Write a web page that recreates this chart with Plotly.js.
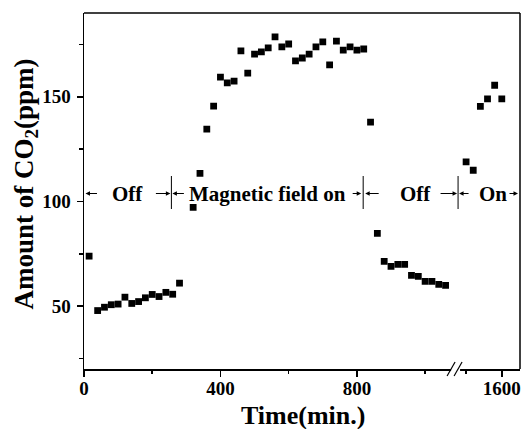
<!DOCTYPE html>
<html>
<head>
<meta charset="utf-8">
<script src="https://cdn.plot.ly/plotly-3.0.1.min.js"></script>
<style>html,body{margin:0;padding:0;background:#fff;}</style>
</head>
<body>
<div id="chart" style="width:522px;height:429px;"></div>
<script>
// Segment 1 (before axis break)
const time1 = [15, 40, 60, 80, 100, 120, 140, 160, 180, 200, 220, 240, 260, 280,
  320, 340, 360, 380, 400, 420, 440, 460, 480, 500, 520, 540, 560, 580, 600, 620, 640, 660, 680, 700, 720, 740, 760, 780, 800, 820,
  840, 860, 880, 900, 920, 940, 960, 980, 1000, 1020, 1040, 1060];
const co2_1 = [73.9, 47.9, 49.5, 50.7, 51.0, 54.3, 51.3, 52.2, 54.0, 55.6, 54.6, 56.6, 55.7, 61.0,
  97.2, 113.4, 134.5, 145.5, 159.4, 156.6, 157.5, 171.9, 161.3, 170.4, 171.4, 173.3, 178.6, 173.8, 175.2, 167.1, 168.5, 170.4, 173.8, 176.2, 165.2, 176.6, 172.3, 173.8, 172.3, 172.8,
  137.9, 84.8, 71.4, 69.0, 70.0, 70.0, 64.7, 64.2, 61.8, 61.8, 60.4, 59.9];
// Segment 2 (after axis break)
const time2 = [1500, 1520, 1540, 1560, 1580, 1600];
const co2_2 = [118.9, 114.9, 145.4, 149.0, 155.5, 149.0];

const xTicks1 = [0, 400, 800];
const xTicks2 = [1600];
const yTicks = [50, 100, 150];
const phaseLabels = ['Off', 'Magnetic field on', 'Off', 'On'];
const xTitle = 'Time(min.)';
const yTitle = 'Amount of CO<sub>2</sub>(ppm)';

const FONT = 'Times New Roman, Liberation Serif, serif';
const L = 83.5, R = 520, T = 13, B = 369;
const px = v => (v - L) / (R - L);           // pixel x -> paper x
const py = v => (B - v) / (B - T);           // pixel y -> paper y
const BREAK = px(453.7);

const marker = {symbol: 'square', size: 6.8, color: '#000'};
const traces = [
  {x: time1, y: co2_1, xaxis: 'x', yaxis: 'y', mode: 'markers', marker, hoverinfo: 'x+y'},
  {x: time2, y: co2_2, xaxis: 'x2', yaxis: 'y', mode: 'markers', marker, hoverinfo: 'x+y'}
];

const axisCommon = {
  showline: true, linecolor: '#000', linewidth: 1.5, ticks: 'outside', ticklen: 6, tickwidth: 1.5,
  tickcolor: '#000', showgrid: false, zeroline: false, ticklabeloverflow: 'allow',
  tickfont: {family: FONT, size: 19, color: '#000', weight: 'bold'}
};

const annY = py(193.5);
const annotations = [];
const textPos = [127, 267, 415, 493];
phaseLabels.forEach((t, i) => annotations.push({
  xref: 'paper', yref: 'paper', x: px(textPos[i]), y: annY, text: t, showarrow: false,
  font: {family: FONT, size: 21, color: '#000', weight: 'bold'}, xanchor: 'center', yanchor: 'middle'
}));
// axis titles
annotations.push({xref: 'paper', yref: 'paper', x: px(302.5), y: py(415), text: xTitle, showarrow: false,
  font: {family: FONT, size: 26, color: '#000', weight: 'bold'}, xanchor: 'center', yanchor: 'middle'});
annotations.push({xref: 'paper', yref: 'paper', x: px(25), y: py(184), text: yTitle, showarrow: false, textangle: -90,
  font: {family: FONT, size: 27, color: '#000', weight: 'bold'}, xanchor: 'center', yanchor: 'middle'});
// arrows: [head px, tail px]
const arrows = [[85, 98], [170, 154], [172, 185], [361, 351], [365, 380], [457, 439], [459, 470], [518, 508]];
arrows.forEach(a => annotations.push({
  xref: 'paper', yref: 'paper', x: px(a[0]), y: annY, ax: a[1] - a[0], ay: 0, text: '',
  showarrow: true, arrowhead: 2, arrowsize: 0.9, arrowwidth: 1, arrowcolor: '#000', standoff: 0, startstandoff: 0
}));

const shapes = [];
[171, 363, 458].forEach(s => shapes.push({
  type: 'line', xref: 'paper', yref: 'paper', x0: px(s), x1: px(s), y0: py(176), y1: py(209),
  line: {color: '#000', width: 1}
}));
// frame top & right
shapes.push({type: 'line', xref: 'paper', yref: 'paper', x0: 0, x1: 1, y0: 1, y1: 1, line: {color: '#000', width: 1.5}});
shapes.push({type: 'line', xref: 'paper', yref: 'paper', x0: 1, x1: 1, y0: 0, y1: 1, line: {color: '#000', width: 1.5}});
// break marks
shapes.push({type: 'rect', xref: 'paper', yref: 'paper', x0: px(451), x1: px(460), y0: py(371), y1: py(367),
  fillcolor: '#fff', line: {width: 0}, layer: 'above'});
shapes.push({type: 'line', xref: 'paper', yref: 'paper', x0: px(447), x1: px(455), y0: py(376), y1: py(362), line: {color: '#000', width: 1.2}});
shapes.push({type: 'line', xref: 'paper', yref: 'paper', x0: px(454), x1: px(462), y0: py(376), y1: py(362), line: {color: '#000', width: 1.2}});

const layout = {
  width: 522, height: 429,
  margin: {l: L, r: 522 - R, t: T, b: 429 - B, pad: 0},
  paper_bgcolor: '#fff', plot_bgcolor: '#fff', showlegend: false,
  font: {family: FONT, color: '#000'},
  xaxis: Object.assign({}, axisCommon, {
    domain: [0, BREAK], range: [0, 1084], tickvals: xTicks1, anchor: 'y', ticklabelstandoff: -4,
    minor: {tickvals: [200, 600, 1000], ticks: 'outside', ticklen: 3.5, tickwidth: 1.5, tickcolor: '#000'}
  }),
  xaxis2: Object.assign({}, axisCommon, {
    domain: [BREAK, 1], range: [1465.5, 1651], tickvals: xTicks2, anchor: 'y', ticklabelstandoff: -4,
    minor: {tickvals: [1500], ticks: 'outside', ticklen: 3.5, tickwidth: 1.5, tickcolor: '#000'}
  }),
  yaxis: Object.assign({}, axisCommon, {
    range: [20, 190], tickvals: yTicks, anchor: 'x', ticklabelstandoff: 2,
    minor: {tickvals: [25, 75, 125, 175], ticks: 'outside', ticklen: 3.5, tickwidth: 1.5, tickcolor: '#000'}
  }),
  annotations, shapes
};

Plotly.newPlot('chart', traces, layout, {displayModeBar: false, staticPlot: true});
</script>
</body>
</html>
